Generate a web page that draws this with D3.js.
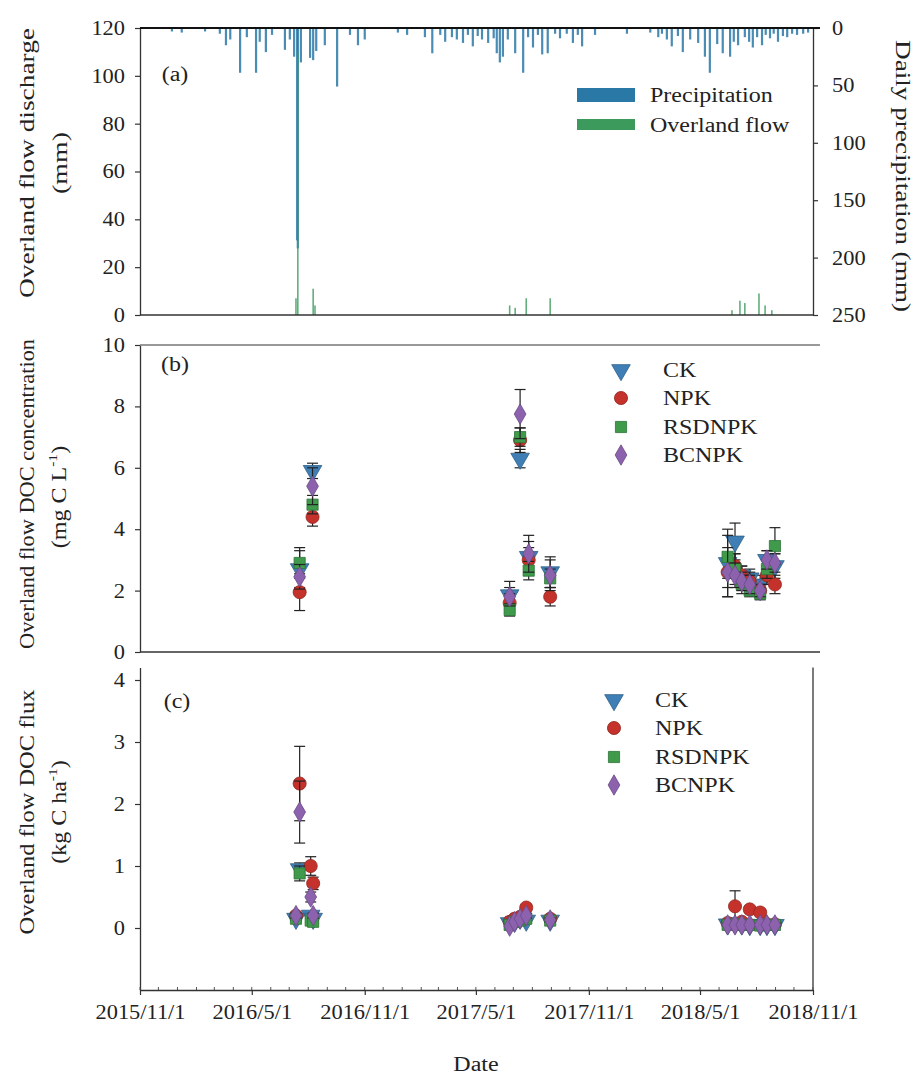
<!DOCTYPE html>
<html>
<head>
<meta charset="utf-8">
<script src="https://cdn.jsdelivr.net/npm/d3@7"></script>
<style>
body{margin:0;background:#fff;}
svg text{font-family:"Liberation Serif","Times New Roman",serif;font-size:20px;fill:#222;}
</style>
</head>
<body>
<svg id="chart" width="919" height="1076"></svg>
<script>
// precipitation (mm, hangs from top) and overland flow (mm) per event day
var precipDates = ["2015-12-23","2016-01-08","2016-02-15","2016-03-10","2016-03-20","2016-03-27","2016-04-12","2016-04-23","2016-05-08","2016-05-14","2016-05-24","2016-06-03","2016-06-24","2016-07-02","2016-07-09","2016-07-14","2016-07-15","2016-07-20","2016-08-04","2016-08-09","2016-08-14","2016-08-28","2016-09-17","2016-10-08","2016-10-21","2016-11-01","2016-12-25","2017-01-09","2017-02-07","2017-02-19","2017-03-04","2017-03-12","2017-03-23","2017-03-31","2017-04-10","2017-04-18","2017-04-26","2017-05-04","2017-05-11","2017-05-21","2017-05-30","2017-06-04","2017-06-09","2017-06-14","2017-06-22","2017-07-04","2017-07-17","2017-07-25","2017-08-02","2017-08-10","2017-08-17","2017-08-26","2017-09-07","2017-09-15","2017-09-26","2017-10-06","2017-10-14","2017-10-21","2017-11-11","2018-01-02","2018-02-09","2018-02-22","2018-02-28","2018-03-08","2018-03-16","2018-03-26","2018-04-03","2018-04-15","2018-04-28","2018-05-09","2018-05-17","2018-05-29","2018-06-07","2018-06-19","2018-06-25","2018-07-02","2018-07-13","2018-07-20","2018-07-26","2018-08-02","2018-08-10","2018-08-16","2018-08-23","2018-08-29","2018-09-05","2018-09-13","2018-09-20","2018-09-28","2018-10-06","2018-10-16","2018-10-24"];
var precipMm = [3,4,3,5,15,10,39,8,39,12,21,6,19,10,25,185,192,30,26,28,20,15,51,6,15,10,4,6,8,22,6,12,8,10,13,6,16,7,10,13,9,22,30,25,10,22,39,8,17,6,23,22,5,9,5,13,6,16,6,5,4,8,5,10,16,7,21,10,13,25,39,14,22,25,12,15,8,12,17,8,15,6,9,5,12,7,8,5,6,5,4];

var flowDates = ["2016-07-12","2016-07-15","2016-08-09","2016-08-12","2017-06-25","2017-07-04","2017-07-22","2017-08-30","2018-06-22","2018-07-05","2018-07-13","2018-08-05","2018-08-15","2018-08-26"];
var flowMm = [7,110,11,4,4,3,7,7,2,6,5,9,4,2];

var seriesNames = ["CK","NPK","RSDNPK","BCNPK"];
var seriesColors = ["#3f7fb5","#c4322b","#3f9a4c","#8c62ae"];

// DOC concentration (mg C L-1), mean and sd
var concDates = ["2016-07-18","2016-08-08","2017-06-25","2017-07-12","2017-07-26","2017-08-30","2018-06-15","2018-06-27","2018-07-08","2018-07-21","2018-08-07","2018-08-18","2018-08-31"];
var concCK = [2.7,5.9,1.85,6.3,3.1,2.6,2.9,3.6,2.5,2.4,2.2,3.0,2.8];
var concCKsd = [0.6,0.25,0.45,0.3,0.5,0.5,1.1,0.6,0.3,0.3,0.3,0.3,0.4];
var concNPK = [1.95,4.4,1.6,6.9,3.0,1.8,2.6,2.8,2.5,2.3,2.0,2.5,2.2];
var concNPKsd = [0.6,0.3,0.3,0.4,0.4,0.3,0.5,0.4,0.3,0.3,0.2,0.3,0.3];
var concRSD = [2.9,4.8,1.37,7.0,2.65,2.4,3.1,2.7,2.2,2.0,1.9,2.7,3.45];
var concRSDsd = [0.5,0.3,0.2,0.3,0.3,0.3,0.7,0.5,0.3,0.2,0.2,0.3,0.6];
var concBC = [2.45,5.4,1.8,7.75,3.2,2.5,2.6,2.5,2.3,2.2,2.0,3.0,2.9];
var concBCsd = [0.4,0.6,0.3,0.8,0.6,0.5,0.8,0.4,0.3,0.3,0.2,0.3,0.3];

// DOC flux (kg C ha-1), mean and sd
var fluxDates = ["2016-07-12","2016-07-18","2016-08-05","2016-08-09","2017-06-25","2017-07-03","2017-07-12","2017-07-22","2017-08-30","2018-06-15","2018-06-27","2018-07-08","2018-07-21","2018-08-07","2018-08-18","2018-08-31"];
var fluxCK = [0.15,0.95,0.2,0.15,0.08,0.1,0.15,0.12,0.12,0.06,0.08,0.06,0.05,0.05,0.05,0.05];
var fluxCKsd = [0.03,0.1,0.05,0.03,0.02,0.02,0.03,0.03,0.03,0.02,0.03,0.02,0.02,0.02,0.02,0.02];
var fluxNPK = [0.2,2.33,1.0,0.72,0.1,0.15,0.18,0.33,0.15,0.08,0.35,0.1,0.3,0.25,0.06,0.06];
var fluxNPKsd = [0.05,0.6,0.15,0.1,0.03,0.03,0.04,0.05,0.03,0.02,0.25,0.03,0.05,0.05,0.02,0.02];
var fluxRSD = [0.15,0.88,0.12,0.1,0.05,0.1,0.12,0.15,0.12,0.05,0.06,0.05,0.05,0.04,0.05,0.05];
var fluxRSDsd = [0.03,0.12,0.03,0.02,0.02,0.02,0.03,0.03,0.03,0.02,0.02,0.02,0.02,0.02,0.02,0.02];
var fluxBC = [0.2,1.87,0.5,0.2,0.03,0.1,0.15,0.2,0.13,0.05,0.05,0.05,0.05,0.05,0.05,0.05];
var fluxBCsd = [0.04,0.5,0.08,0.04,0.02,0.02,0.03,0.04,0.03,0.02,0.02,0.02,0.02,0.02,0.02,0.02];

var xTickDates = ["2015-11-01","2016-05-01","2016-11-01","2017-05-01","2017-11-01","2018-05-01","2018-11-01"];

var cPrec = "#2a78a6", cFlow = "#3c9a5c";
var parse = d3.timeParse("%Y-%m-%d");
var svg = d3.select("#chart");

var x = d3.scaleTime([parse("2015-11-01"), parse("2018-11-01")], [140, 813]);

// widen text a bit, the original font is wider than Times
function stretch(sel, f) {
  sel.each(function(){
    var w = this.getComputedTextLength();
    d3.select(this).attr("textLength", w*(f||1.2)).attr("lengthAdjust","spacingAndGlyphs");
  });
}
function styleAxis(g) {
  g.attr("font-family", null).attr("font-size", null);
  g.select(".domain").attr("stroke","#333").attr("stroke-width",1.3);
  g.selectAll(".tick line").attr("stroke","#333").attr("stroke-width",1.2);
  stretch(g.selectAll("text"), 1.12);
}
function hline(g, x1, x2, y, w, col) {
  g.append("line").attr("x1",x1).attr("x2",x2).attr("y1",y).attr("y2",y)
    .attr("stroke",col||"#333").attr("stroke-width",w||1.3);
}
function vline(g, xx, y1, y2) {
  g.append("line").attr("x1",xx).attr("x2",xx).attr("y1",y1).attr("y2",y2)
    .attr("stroke","#333").attr("stroke-width",1.3);
}
function vtitle(txt, cx, cy, len, rot) {
  return svg.append("text").attr("transform","translate("+cx+","+cy+") rotate("+(rot||-90)+")")
    .attr("text-anchor","middle").attr("dominant-baseline","central")
    .attr("textLength",len).attr("lengthAdjust","spacingAndGlyphs").text(txt);
}
function unitTitle(pre, cx, cy) {
  var t = svg.append("text").attr("transform","translate("+cx+","+cy+") rotate(-90)")
    .attr("text-anchor","middle").attr("dominant-baseline","central");
  t.append("tspan").text(pre);
  t.append("tspan").attr("dy",-7).style("font-size","13px").text("-1");
  t.append("tspan").attr("dy",7).text(")");
  return t;
}
var sym = [d3.symbolTriangle, d3.symbolCircle, d3.symbolSquare, d3.symbolDiamond];
var symSize = [150, 135, 125, 120];
var symRot = [180, 0, 0, 0];

// ---------------- panel (a) ----------------
var yFlow = d3.scaleLinear([0,120],[315,28]);
var yPrec = d3.scaleLinear([0,250],[28,315]);
var gA = svg.append("g");

gA.selectAll("rect.prec")
  .data(precipDates.map(function(d,i){ return {date:parse(d), v:precipMm[i]}; }))
  .join("rect").attr("class","prec")
  .attr("x", function(d){ return x(d.date)-1.1; })
  .attr("width", 2.2)
  .attr("y", yPrec(0))
  .attr("height", function(d){ return yPrec(d.v)-yPrec(0); })
  .attr("fill", cPrec).attr("opacity",0.85);

gA.selectAll("rect.flow")
  .data(flowDates.map(function(d,i){ return {date:parse(d), v:flowMm[i]}; }))
  .join("rect").attr("class","flow")
  .attr("x", function(d){ return x(d.date)-0.8; })
  .attr("width", 1.6)
  .attr("y", function(d){ return yFlow(d.v); })
  .attr("height", function(d){ return yFlow(0)-yFlow(d.v); })
  .attr("fill", cFlow).attr("opacity",0.8);

gA.append("g").attr("transform","translate(140,0)")
  .call(d3.axisLeft(yFlow).tickValues(d3.range(0,121,20)).tickSize(5).tickPadding(10).tickSizeOuter(0))
  .call(styleAxis);
gA.append("g").attr("transform","translate(813,0)")
  .call(d3.axisRight(yPrec).tickValues(d3.range(0,251,50)).tickSize(5).tickPadding(14).tickSizeOuter(0))
  .call(styleAxis);
hline(gA, 140, 820, 28, 2.2, "#111");
hline(gA, 140, 813, 315);

gA.append("text").attr("x",175).attr("y",74).attr("text-anchor","middle").attr("dominant-baseline","central").text("(a)").call(stretch);
gA.append("rect").attr("x",577).attr("y",88).attr("width",58).attr("height",14).attr("fill",cPrec);
gA.append("rect").attr("x",577).attr("y",119).attr("width",58).attr("height",11).attr("fill",cFlow);
gA.append("text").attr("x",650).attr("y",95).attr("dominant-baseline","central").text("Precipitation").call(stretch);
gA.append("text").attr("x",650).attr("y",125).attr("dominant-baseline","central").text("Overland flow").call(stretch);

vtitle("Overland flow discharge", 27, 163, 270);
vtitle("(mm)", 60, 163, 62);
vtitle("Daily precipitation (mm)", 903, 176, 272, 90);

// ---------------- shared scatter drawing ----------------
function drawSeries(g, y, dates, means, sds) {
  means.forEach(function(m, s){
    var rows = dates.map(function(d,i){ return {date:parse(d), m:m[i], sd:sds[s][i]}; });
    var eb = g.append("g").attr("stroke","#222").attr("stroke-width",1.2);
    rows.forEach(function(r){
      var xx = x(r.date);
      eb.append("line").attr("x1",xx).attr("x2",xx).attr("y1",y(r.m-r.sd)).attr("y2",y(r.m+r.sd));
      eb.append("line").attr("x1",xx-5.5).attr("x2",xx+5.5).attr("y1",y(r.m+r.sd)).attr("y2",y(r.m+r.sd));
      eb.append("line").attr("x1",xx-5.5).attr("x2",xx+5.5).attr("y1",y(r.m-r.sd)).attr("y2",y(r.m-r.sd));
    });
    g.append("g").selectAll("path").data(rows).join("path")
      .attr("d", d3.symbol(sym[s], symSize[s]))
      .attr("transform", function(r){ return "translate("+x(r.date)+","+y(r.m)+") rotate("+symRot[s]+")"; })
      .attr("fill", seriesColors[s])
      .attr("stroke", d3.color(seriesColors[s]).darker(0.8)).attr("stroke-width",0.8);
  });
}
function drawLegend(g, lx, tx, ys) {
  seriesNames.forEach(function(n, s){
    g.append("path").attr("d", d3.symbol(sym[s], symSize[s]))
      .attr("transform","translate("+lx+","+ys[s]+") rotate("+symRot[s]+")")
      .attr("fill", seriesColors[s]).attr("stroke", d3.color(seriesColors[s]).darker(0.8)).attr("stroke-width",0.8);
    g.append("text").attr("x",tx).attr("y",ys[s]).attr("dominant-baseline","central").text(n).call(stretch);
  });
}

// ---------------- panel (b) ----------------
var yConc = d3.scaleLinear([0,10],[652,345]);
var gB = svg.append("g");
gB.append("g").attr("transform","translate(140,0)")
  .call(d3.axisLeft(yConc).tickValues(d3.range(0,11,2)).tickFormat(d3.format("d")).tickSize(5).tickPadding(10).tickSizeOuter(0))
  .call(styleAxis);
hline(gB, 140, 820, 345, 1.3, "#777");
hline(gB, 140, 820, 652);
drawSeries(gB, yConc, concDates, [concCK, concNPK, concRSD, concBC], [concCKsd, concNPKsd, concRSDsd, concBCsd]);
gB.append("text").attr("x",175).attr("y",364).attr("text-anchor","middle").attr("dominant-baseline","central").text("(b)").call(stretch);
drawLegend(gB, 621, 663, [370, 398, 427, 455]);
vtitle("Overland flow DOC concentration", 27, 494, 310);
unitTitle("(mg C L", 59, 497).call(stretch, 1.2);

// ---------------- panel (c) ----------------
var yFlux = d3.scaleLinear([-1,4.2],[990,667.6]);
var gC = svg.append("g");
gC.append("g").attr("transform","translate(140,0)")
  .call(d3.axisLeft(yFlux).tickValues([0,1,2,3,4]).tickFormat(d3.format("d")).tickSize(5).tickPadding(10).tickSizeOuter(0))
  .call(styleAxis);
vline(gC, 813, yFlux(4.2), yFlux(-1));

var monthTicks = d3.timeMonth.range(parse("2015-11-01"), parse("2018-11-02"));
gC.append("g").selectAll("line").data(monthTicks).join("line")
  .attr("x1", function(d){ return x(d); }).attr("x2", function(d){ return x(d); })
  .attr("y1", yFlux(-1)).attr("y2", yFlux(-1)-3)
  .attr("stroke","#555").attr("stroke-width",1);
gC.append("g").attr("transform","translate(0,"+yFlux(-1)+")")
  .call(d3.axisBottom(x).tickValues(xTickDates.map(parse)).tickFormat(d3.timeFormat("%Y/%-m/%-d")).tickSize(5).tickPadding(10).tickSizeOuter(0))
  .call(styleAxis);

drawSeries(gC, yFlux, fluxDates, [fluxCK, fluxNPK, fluxRSD, fluxBC], [fluxCKsd, fluxNPKsd, fluxRSDsd, fluxBCsd]);
gC.append("text").attr("x",177).attr("y",701).attr("text-anchor","middle").attr("dominant-baseline","central").text("(c)").call(stretch);
drawLegend(gC, 614, 655, [700, 728, 757, 785]);
vtitle("Overland flow DOC flux", 27, 812, 245);
unitTitle("(kg C ha", 59, 812).call(stretch, 1.2);

svg.append("text").attr("x",476).attr("y",1064).attr("text-anchor","middle").attr("dominant-baseline","central").text("Date").call(stretch);
</script>
</body>
</html>
